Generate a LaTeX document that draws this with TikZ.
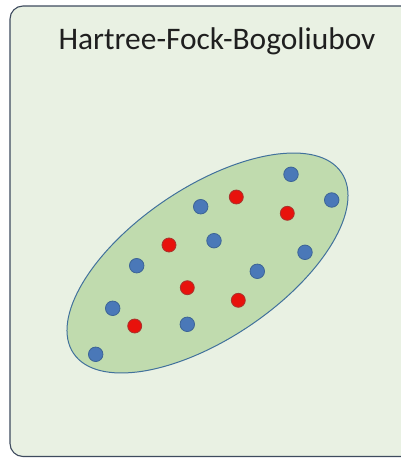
\documentclass[tikz,border=0pt]{standalone}
\usepackage{fontspec}
\setmainfont{Carlito}
\definecolor{bgpanel}{HTML}{E9F1E3}
\definecolor{panelline}{HTML}{3E4B5E}
\definecolor{ellfill}{HTML}{C0DBAE}
\definecolor{ellline}{HTML}{41719C}
\definecolor{bluedot}{HTML}{4A78B8}
\definecolor{bluerim}{HTML}{3D6596}
\definecolor{reddot}{HTML}{E8120C}
\definecolor{redrim}{HTML}{A8342E}
\tikzset{
  panel/.style={draw=panelline, line width=1.1pt, fill=bgpanel, rounded corners=13pt},
  cloud/.style={draw=ellline, line width=1pt, fill=ellfill},
  bdot/.style={circle, fill=bluedot, draw=bluerim, line width=0.8pt, minimum size=14.5pt, inner sep=0pt},
  rdot/.style={circle, fill=reddot, draw=redrim, line width=0.8pt, minimum size=14pt, inner sep=0pt},
  title/.style={font=\fontsize{31.4}{37}\selectfont, text=black!88, inner sep=0pt}
}
\begin{document}
\begin{tikzpicture}[x=1pt,y=-1pt]
\useasboundingbox (0,0) rectangle (401,458);
\begin{scope}
\clip (0,0) rectangle (401,458);
\path[panel] (10,6) rectangle (420,456.5);
\end{scope}
\node[title, anchor=base] (t) at (217,49.5) {Hartree-Fock-Bogoliubov};
\path[cloud, rotate around={34:(207.5,263)}] (207.5,263) ellipse [x radius=161.6pt, y radius=75.6pt];
% blue
\node[bdot] (b1) at (291,174.3) {};
\node[bdot] (b2) at (331.7,200) {};
\node[bdot] (b3) at (200.7,206.7) {};
\node[bdot] (b4) at (214,240.7) {};
\node[bdot] (b5) at (136.7,265.7) {};
\node[bdot] (b6) at (305,252.3) {};
\node[bdot] (b7) at (257.3,271.3) {};
\node[bdot] (b8) at (112.7,308.3) {};
\node[bdot] (b9) at (187.3,324.3) {};
\node[bdot] (b10) at (95.7,354.3) {};
% red
\node[rdot] (r1) at (236.3,197) {};
\node[rdot] (r2) at (287.3,213.3) {};
\node[rdot] (r3) at (169,245) {};
\node[rdot] (r4) at (187.3,287.7) {};
\node[rdot] (r5) at (238.3,300.3) {};
\node[rdot] (r6) at (134.7,326) {};
\end{tikzpicture}
\end{document}
